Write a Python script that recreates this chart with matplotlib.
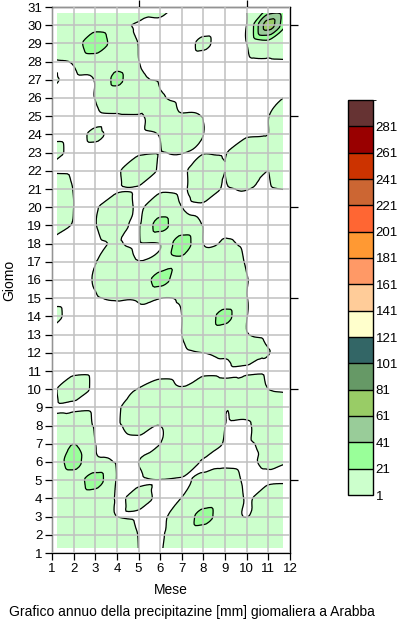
import numpy as np
import matplotlib
matplotlib.use("Agg")
import matplotlib.pyplot as plt
import matplotlib.tri as mtri
from matplotlib.colors import ListedColormap, BoundaryNorm
from matplotlib.cm import ScalarMappable
from matplotlib.patches import Rectangle

plt.rcParams['font.family'] = ['Liberation Sans', 'DejaVu Sans']

mesi = list(range(1, 13))
giorni = list(range(1, 32))
livelli = list(range(1, 302, 20))   # 1, 21, ..., 301
colori = ['#ccffcc', '#99ff99', '#99cc99', '#99cc66', '#669966', '#336666',
          '#ffffcc', '#ffcc99', '#ff9966', '#ff9933', '#ff6633', '#cc6633',
          '#cc3300', '#990000', '#663333']

# precipitazione [mm]: una riga per giorno (dal 31 all'1), una colonna per mese
pioggia = [
    [0, 8, 8, 8, 8, 3, 0, 0, 0, 1.1, 15, 8],          # 31
    [1.0, 8, 12, 4, 0, 0, 0, 0, 0, 1.2, 70, 10],      # 30
    [2, 10, 35, 10, 0.8, 0, 0, 1.4, 0, 1.0, 12, 8],   # 29
    [0, 2, 8, 14, 1.2, 0, 0, 0, 0, 0, 0, 0.5],        # 28
    [1.5, 0, 1.5, 25, 3, 0.5, 0, 0, 0, 0, 0, 0],      # 27
    [0, 0, 1.2, 8, 8, 1.5, 0, 0, 0, 0, 0, 2],         # 26
    [0, 0, 0, 0.3, 0.5, 4, 1.5, 0.8, 0, 0, 0.9, 8],   # 25
    [0, 0, 1.5, 0, 0, 1.2, 8, 1.0, 0, 0, 1.0, 8],     # 24
    [2.5, 0, 0, 0, 0, 0.8, 1.2, 0.8, 0.7, 8, 1.0, 8], # 23
    [0.5, 0, 0, 0, 8, 0, 0, 5, 1.0, 8, 1.0, 8],       # 22
    [8, 0.8, 0, 0, 0, 0, 0, 5, 0.5, 1.2, 0.5, 1.2],   # 21
    [8, 1.0, 0.5, 6, 0, 8, 1.0, 0, 0, 0, 0, 0],       # 20
    [4, 0.8, 0.8, 5, 0, 28, 6, 0.5, 0, 0, 0, 0],      # 19
    [0, 0, 0, 1.5, 0, 1.2, 32, 0.8, 1.8, 0, 0, 0],    # 18
    [0, 0, 0.8, 8, 1.2, 8, 15, 8, 6, 0.5, 0, 0],      # 17
    [0, 0, 1.5, 8, 8, 28, 8, 8, 8, 1.2, 0, 0],        # 16
    [0, 0, 0.5, 1.5, 2, 1.2, 2, 8, 8, 1.2, 0, 0],     # 15
    [2, 0, 0, 0, 0, 0, 1.0, 8, 27, 1.2, 0, 0],        # 14
    [0, 0, 0, 0, 0, 0, 1.0, 8, 8, 1.2, 0, 0],         # 13
    [0, 0, 0, 0, 0, 0, 0, 1.0, 2, 5, 1.1, 0],         # 12
    [0, 0, 0, 0, 0, 0, 0, 0, 0, 0, 0, 0],             # 11
    [0, 4.5, 0, 0, 1.2, 3, 1.5, 5, 3, 7, 1.0, 0],     # 10
    [0, 0, 0, 0, 8, 8, 8, 8, 1.2, 4, 5, 1.0],         # 9
    [3, 8, 0, 0.3, 3, 1.0, 8, 8, 1.0, 0, 7, 8],       # 8
    [6, 21, 1.1, 0, 0, 1.0, 8, 8, 0.5, 0, 3, 8],      # 7
    [5, 28, 4, 0, 1.0, 8, 8, 0, 0, 0, 2.2, 1.2],      # 6
    [0.5, 10, 30, 0.5, 0, 0.8, 0.2, 3, 4, 0, 0, 0],   # 5
    [0, 5, 8, 0.5, 3, 0, 1.2, 8, 8, 0.5, 6, 8],       # 4
    [2, 8, 8, 1.0, 0, 0, 6, 28, 8, 0.8, 8, 8],        # 3
    [8, 8, 8, 8, 0.8, 0, 8, 8, 8, 8, 8, 8],           # 2
    [8, 8, 8, 8, 1.0, 0.5, 3, 0, 0, 1.0, 8, 8],       # 1
]

X, Y = np.meshgrid(mesi, giorni)
Z = np.array(pioggia[::-1], dtype=float)

# triangoli della griglia, tutti tagliati sulla stessa diagonale
nx, ny = len(mesi), len(giorni)
triangoli = []
for j in range(ny - 1):
    for i in range(nx - 1):
        a = j * nx + i
        b, c, d = a + 1, a + nx, a + nx + 1
        triangoli += [[a, b, d], [a, d, c]]
tri = mtri.Triangulation(X.ravel(), Y.ravel(), triangoli)
interp = mtri.CubicTriInterpolator(tri, Z.ravel(), kind='geom')
tri_f, z_f = mtri.UniformTriRefiner(tri).refine_field(Z.ravel(), triinterpolator=interp, subdiv=3)

fig = plt.figure(figsize=(4.0, 6.22), dpi=100)
ax = fig.add_axes([52/400, 69/622, 238/400, 546/622])

cf = ax.tricontourf(tri_f, z_f, levels=livelli, colors=colori, zorder=1)
cl = ax.tricontour(tri_f, z_f, levels=livelli, colors='k', linewidths=0.9, zorder=2)
area = Rectangle((1.25, 1.3), 10.42, 29.35, transform=ax.transData)
cf.set_clip_path(area)
cl.set_clip_path(area)

ax.set_xlim(1, 12)
ax.set_ylim(1, 31)
ax.set_xticks(mesi)
ax.set_yticks(giorni)
ax.grid(True, color='#c0c0c0', linewidth=1.1)
ax.set_axisbelow(False)
ax.tick_params(direction='out', length=5, width=0.9, labelsize=9.5, pad=2)
for s in ax.spines.values():
    s.set_linewidth(0.9)

top = ax.secondary_xaxis('top')
top.set_xticks([5, 10])
top.set_xticklabels([])
top.tick_params(direction='out', length=5, width=0.9)
right = ax.secondary_yaxis('right')
right.set_yticks([5, 10, 15, 20, 25, 30])
right.set_yticklabels([])
right.tick_params(direction='out', length=6, width=0.9)

ax.set_xlabel('Mese', fontsize=10, labelpad=6)
ax.set_ylabel('Giomo', fontsize=10)
ax.yaxis.set_label_coords(-0.15, 0.5)

cax = fig.add_axes([348/400, 127/622, 25/400, 395/622])
sm = ScalarMappable(norm=BoundaryNorm(livelli, len(colori)), cmap=ListedColormap(colori))
cb = fig.colorbar(sm, cax=cax, ticks=livelli[:-1], drawedges=True)
cb.ax.tick_params(length=0, labelsize=9.5, pad=2)
cb.outline.set_linewidth(1)
cb.dividers.set_color('k')
cb.dividers.set_linewidth(1)

fig.text(0.48, 1 - 612/622, 'Grafico annuo della precipitazine [mm] giomaliera a Arabba',
         ha='center', va='center', fontsize=10)

fig.savefig('out.png', dpi=100)
